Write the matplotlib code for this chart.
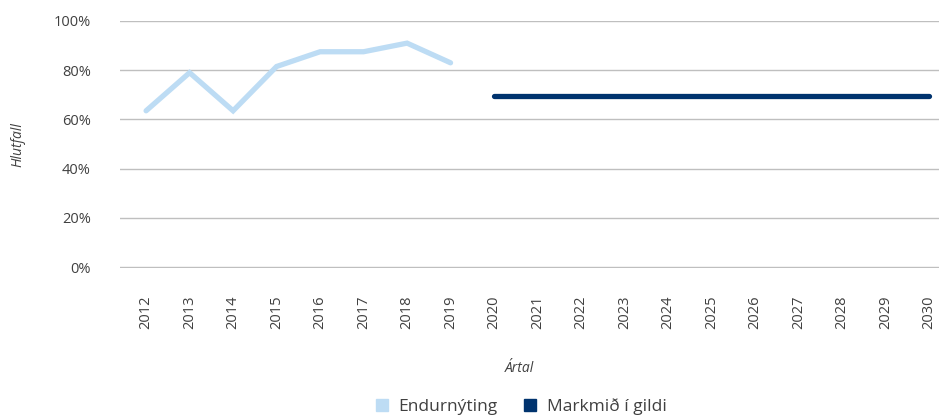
import matplotlib
matplotlib.use("Agg")
import matplotlib.pyplot as plt
from matplotlib.ticker import PercentFormatter
from matplotlib.lines import Line2D

years = [str(y) for y in range(2012, 2031)]
endurnyting_years = years[:8]
endurnyting = [63.5, 79.0, 63.5, 81.5, 87.5, 87.5, 91.0, 83.0]
markmid_years = years[8:]
markmid = [69.5] * len(markmid_years)

plt.rcParams['font.family'] = ['Open Sans', 'DejaVu Sans']
txt = "#404040"

fig = plt.figure(figsize=(9.39, 4.18), dpi=100)
ax = fig.add_axes([120/939, 1-267.5/418, 1-120/939, 247/418])

xi = {y: i for i, y in enumerate(years)}
ax.plot([xi[y] for y in endurnyting_years], endurnyting, color="#BDDCF4", lw=3.8,
        solid_capstyle="round", solid_joinstyle="miter", label="Endurnýting")
ax.plot([xi[y] for y in markmid_years], markmid, color="#00336E", lw=3.8,
        solid_capstyle="round", label="Markmið í gildi")

ax.set_ylim(-0.2, 100.2)
ax.set_yticks(range(0, 101, 20))
ax.yaxis.set_major_formatter(PercentFormatter(decimals=0))
ax.set_xlim(-0.6, len(years) - 1 + 0.23)
ax.set_xticks(range(len(years)))
ax.set_xticklabels(years, rotation=90)
ax.grid(axis="y", color="#BFBFBF", lw=1)
ax.set_axisbelow(True)
for s in ax.spines.values():
    s.set_visible(False)
ax.tick_params(length=0, labelsize=10.5, colors=txt)
ax.tick_params(axis="x", pad=20)
ax.tick_params(axis="y", pad=21)

fig.text(18/939, 1-145/418, "Hlutfall", rotation=90, style="italic", fontsize=10,
         color=txt, ha="center", va="center")
fig.text(519/939, 1-368/418, "Ártal", style="italic", fontsize=10, color=txt,
         ha="center", va="center")

handles = [Line2D([], [], marker="s", ls="none", ms=9, color="#BDDCF4"),
           Line2D([], [], marker="s", ls="none", ms=9, color="#00336E")]
fig.legend(handles, ["Endurnýting", "Markmið í gildi"], loc="center",
           bbox_to_anchor=(519/939, 1-407/418), ncol=2, frameon=False,
           fontsize=12.5, labelcolor=txt, handletextpad=0.35, columnspacing=1.3,
           handlelength=1.2)

fig.savefig("out.png", dpi=100)
